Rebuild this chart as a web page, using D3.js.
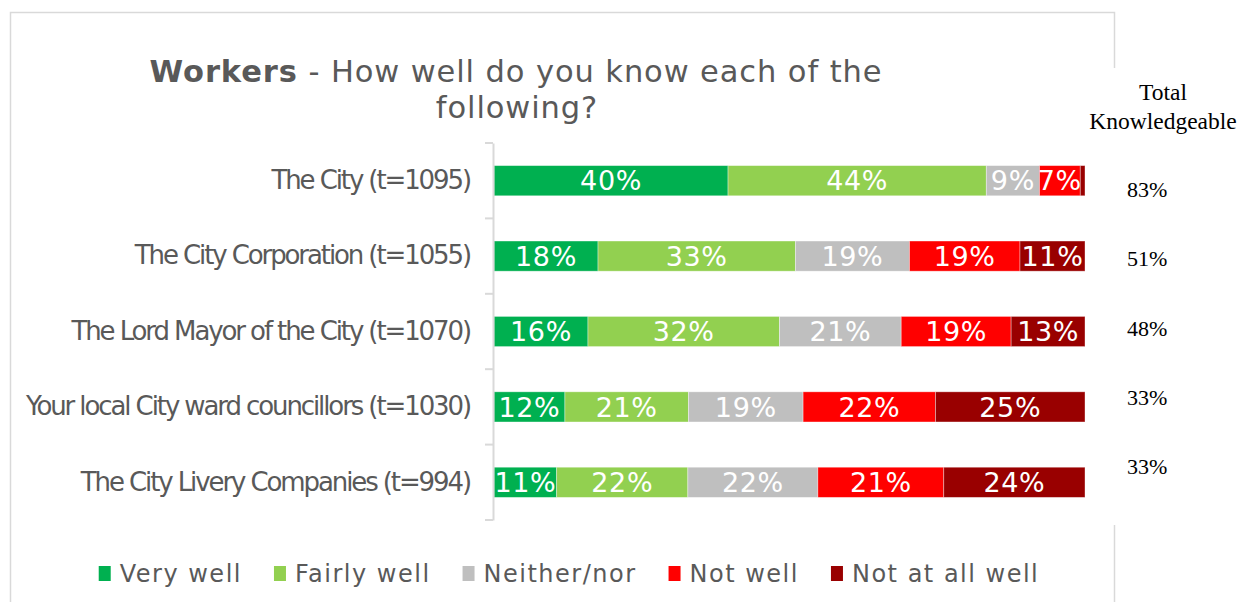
<!DOCTYPE html>
<html><head><meta charset="utf-8">
<script src="https://cdn.jsdelivr.net/npm/d3@7"></script>
<style>body{margin:0;background:#fff;} svg{display:block;}</style>
</head><body><svg id="c" width="1248" height="602"></svg>
<script>
const categories = ["The City (t=1095)", "The City Corporation (t=1055)", "The Lord Mayor of the City (t=1070)", "Your local City ward councillors (t=1030)", "The City Livery Companies (t=994)"];
const seriesNames = ["Very well", "Fairly well", "Neither/nor", "Not well", "Not at all well"];
const veryWell     = [39.6, 17.6, 15.9, 12.0, 10.6];
const fairlyWell   = [43.7, 33.4, 32.4, 20.9, 22.2];
const neitherNor   = [9.0, 19.3, 20.6, 19.4, 22.0];
const notWell      = [6.9, 18.7, 18.6, 22.4, 21.3];
const notAtAllWell = [0.8, 11.0, 12.5, 25.3, 23.9];
const colors = ["#00B050", "#92D050", "#BFBFBF", "#FF0000", "#990000"];
const titleBold = "Workers";
const titleRest = " - How well do you know each of the";
const titleLine2 = "following?";
const sideTitle = ["Total", "Knowledgeable"];

const svg = d3.select("#c");
const grey = "#595959";
const font = "'DejaVu Sans', Verdana, sans-serif";
const serif = "'Liberation Serif', 'Times New Roman', serif";

// outer chart border
svg.append("rect").attr("x", 10.5).attr("y", 12.5).attr("width", 1104).attr("height", 620)
  .attr("fill", "#fff").attr("stroke", "#d9d9d9").attr("stroke-width", 1.5);
// side text box (covers border)
svg.append("rect").attr("x", 1086).attr("y", 68).attr("width", 162).attr("height", 457).attr("fill", "#fff");

const rows = categories.map((c, i) => ({
  cat: c,
  "Very well": veryWell[i], "Fairly well": fairlyWell[i], "Neither/nor": neitherNor[i],
  "Not well": notWell[i], "Not at all well": notAtAllWell[i]
}));
const stack = d3.stack().keys(seriesNames)(rows);

const x = d3.scaleLinear().domain([0, 100]).range([494, 1085]);
const y = d3.scaleBand().domain(categories).range([143, 520]).paddingInner(0.6).paddingOuter(0.3);
const color = d3.scaleOrdinal().domain(seriesNames).range(colors);

// title
const t = svg.append("text").attr("x", 516).attr("y", 82).attr("text-anchor", "middle")
  .attr("font-family", font).attr("font-size", 30.5).attr("fill", grey).attr("letter-spacing", 0.9);
t.append("tspan").attr("font-weight", "bold").text(titleBold);
t.append("tspan").text(titleRest);
svg.append("text").attr("x", 517).attr("y", 118).attr("text-anchor", "middle")
  .attr("font-family", font).attr("font-size", 30.5).attr("fill", grey).attr("letter-spacing", 0.9).text(titleLine2);

// bars
const g = svg.append("g");
const layers = g.selectAll("g.layer").data(stack).join("g").attr("class", "layer")
  .attr("fill", d => color(d.key));
layers.selectAll("rect").data(d => d).join("rect")
  .attr("x", d => x(d[0])).attr("width", d => x(d[1]) - x(d[0]))
  .attr("y", d => y(d.data.cat)).attr("height", y.bandwidth())
  .attr("stroke", "#fff").attr("stroke-opacity", 0.45).attr("stroke-width", 0.8);
layers.selectAll("text").data(d => d.filter(v => v[1] - v[0] >= 2)).join("text")
  .attr("x", d => (x(d[0]) + x(d[1])) / 2)
  .attr("y", d => y(d.data.cat) + y.bandwidth() / 2)
  .attr("dy", "0.36em").attr("text-anchor", "middle")
  .attr("font-family", font).attr("font-size", 27).attr("letter-spacing", 0.6).attr("fill", "#fff")
  .text(d => Math.round(d[1] - d[0]) + "%");

// axis
const axis = d3.axisLeft(y).tickSize(0).tickPadding(23);
const ag = svg.append("g").attr("transform", "translate(493,0)").call(axis);
ag.select(".domain").attr("stroke", "#d9d9d9").attr("stroke-width", 2);
ag.selectAll(".tick text").attr("font-family", font).attr("font-size", 26)
  .attr("fill", grey).attr("letter-spacing", -2.1);
const bounds = categories.map(c => y(c) - y.step() * y.paddingInner() / 2)
  .concat([y(categories[categories.length - 1]) + y.bandwidth() + y.step() * y.paddingInner() / 2]);
ag.selectAll("line.bt").data(bounds).join("line").attr("class", "bt")
  .attr("x1", -8).attr("x2", 0).attr("y1", d => d).attr("y2", d => d)
  .attr("stroke", "#d9d9d9").attr("stroke-width", 2);

// side column
svg.selectAll("text.side").data(sideTitle).join("text").attr("class", "side")
  .attr("x", 1163).attr("y", (d, i) => 100 + i * 29).attr("text-anchor", "middle")
  .attr("font-family", serif).attr("font-size", 23.5)
  .attr("fill", "#000").text(d => d);
const sy = d3.scaleLinear().domain([0, categories.length - 1]).range([197, 474]);
svg.selectAll("text.tot").data(rows).join("text").attr("class", "tot")
  .attr("x", 1127).attr("y", (d, i) => sy(i))
  .attr("font-family", serif).attr("font-size", 22)
  .attr("fill", "#000").text(d => Math.round(d["Very well"] + d["Fairly well"]) + "%");

// legend
const lg = svg.append("g");
let lx = 0;
seriesNames.forEach((s, i) => {
  const it = lg.append("g").attr("transform", `translate(${lx},0)`);
  it.append("rect").attr("x", 0).attr("y", -16).attr("width", 12).attr("height", 15).attr("fill", colors[i]);
  const tx = it.append("text").attr("x", 21).attr("y", 0).attr("font-family", font)
    .attr("font-size", 24).attr("letter-spacing", 1.5).attr("fill", grey).text(s);
  lx += 21 + tx.node().getComputedTextLength() + 32;
});
lx -= 32;
lg.attr("transform", `translate(${569 - lx / 2},582)`);
</script></body></html>
